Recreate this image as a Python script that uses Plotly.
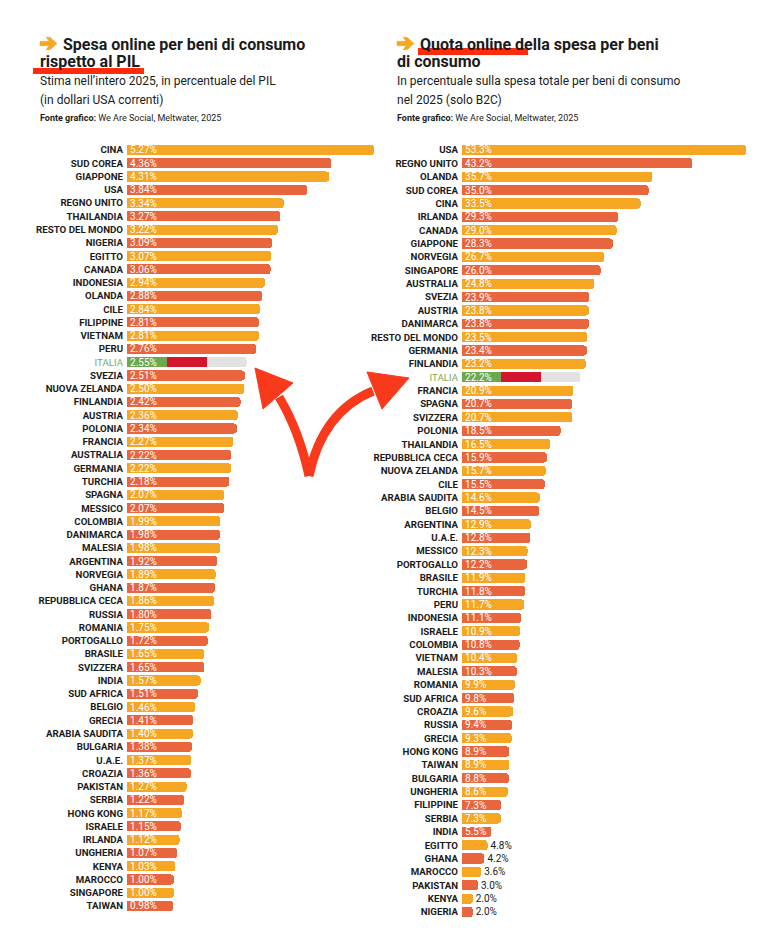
import plotly.graph_objects as go

W, H = 760, 937

# ---------------- data ----------------
countries_pil = ["CINA", "SUD COREA", "GIAPPONE", "USA", "REGNO UNITO", "THAILANDIA", "RESTO DEL MONDO",
                 "NIGERIA", "EGITTO", "CANADA", "INDONESIA", "OLANDA", "CILE", "FILIPPINE", "VIETNAM", "PERU",
                 "ITALIA", "SVEZIA", "NUOVA ZELANDA", "FINLANDIA", "AUSTRIA", "POLONIA", "FRANCIA", "AUSTRALIA",
                 "GERMANIA", "TURCHIA", "SPAGNA", "MESSICO", "COLOMBIA", "DANIMARCA", "MALESIA", "ARGENTINA",
                 "NORVEGIA", "GHANA", "REPUBBLICA CECA", "RUSSIA", "ROMANIA", "PORTOGALLO", "BRASILE",
                 "SVIZZERA", "INDIA", "SUD AFRICA", "BELGIO", "GRECIA", "ARABIA SAUDITA", "BULGARIA", "U.A.E.",
                 "CROAZIA", "PAKISTAN", "SERBIA", "HONG KONG", "ISRAELE", "IRLANDA", "UNGHERIA", "KENYA",
                 "MAROCCO", "SINGAPORE", "TAIWAN"]
values_pil = [5.27, 4.36, 4.31, 3.84, 3.34, 3.27, 3.22, 3.09, 3.07, 3.06, 2.94, 2.88, 2.84, 2.81, 2.81, 2.76,
              2.55, 2.51, 2.50, 2.42, 2.36, 2.34, 2.27, 2.22, 2.22, 2.18, 2.07, 2.07, 1.99, 1.98, 1.98, 1.92,
              1.89, 1.87, 1.86, 1.80, 1.75, 1.72, 1.65, 1.65, 1.57, 1.51, 1.46, 1.41, 1.40, 1.38, 1.37, 1.36,
              1.27, 1.22, 1.17, 1.15, 1.12, 1.07, 1.03, 1.00, 1.00, 0.98]

countries_quota = ["USA", "REGNO UNITO", "OLANDA", "SUD COREA", "CINA", "IRLANDA", "CANADA", "GIAPPONE",
                   "NORVEGIA", "SINGAPORE", "AUSTRALIA", "SVEZIA", "AUSTRIA", "DANIMARCA", "RESTO DEL MONDO",
                   "GERMANIA", "FINLANDIA", "ITALIA", "FRANCIA", "SPAGNA", "SVIZZERA", "POLONIA", "THAILANDIA",
                   "REPUBBLICA CECA", "NUOVA ZELANDA", "CILE", "ARABIA SAUDITA", "BELGIO", "ARGENTINA", "U.A.E.",
                   "MESSICO", "PORTOGALLO", "BRASILE", "TURCHIA", "PERU", "INDONESIA", "ISRAELE", "COLOMBIA",
                   "VIETNAM", "MALESIA", "ROMANIA", "SUD AFRICA", "CROAZIA", "RUSSIA", "GRECIA", "HONG KONG",
                   "TAIWAN", "BULGARIA", "UNGHERIA", "FILIPPINE", "SERBIA", "INDIA", "EGITTO", "GHANA",
                   "MAROCCO", "PAKISTAN", "KENYA", "NIGERIA"]
values_quota = [53.3, 43.2, 35.7, 35.0, 33.5, 29.3, 29.0, 28.3, 26.7, 26.0, 24.8, 23.9, 23.8, 23.8, 23.5,
                23.4, 23.2, 22.2, 20.9, 20.7, 20.7, 18.5, 16.5, 15.9, 15.7, 15.5, 14.6, 14.5, 12.9, 12.8,
                12.3, 12.2, 11.9, 11.8, 11.7, 11.1, 10.9, 10.8, 10.4, 10.3, 9.9, 9.8, 9.6, 9.4, 9.3, 8.9,
                8.9, 8.8, 8.6, 7.3, 7.3, 5.5, 4.8, 4.2, 3.6, 3.0, 2.0, 2.0]

highlight = "ITALIA"

# ---------------- styles ----------------
FONT = "Roboto"
ORANGE = "#F5A623"
REDOR = "#E8653D"
GREEN = "#6BA84F"
FLAGRED = "#D4152E"
GREY = "#E2E2E2"
ARROW = "#F9391B"
INK = "#1b1b1b"

fig = go.Figure()


def add_panel(countries, values, fmt, xa, ya, outside_below):
    base = [None if c == highlight else v for c, v in zip(countries, values)]
    colors = [ORANGE if i % 2 == 0 else REDOR for i in range(len(countries))]
    texts = ["" if c == highlight else fmt.format(v) for c, v in zip(countries, values)]
    pos = ["outside" if v < outside_below else "inside" for v in values]
    fig.add_trace(go.Bar(
        x=base, y=countries, orientation="h", marker=dict(color=colors, line=dict(width=0)),
        text=texts, textposition=pos, insidetextanchor="start", constraintext="none",
        insidetextfont=dict(color="white", size=10, family=FONT),
        outsidetextfont=dict(color=INK, size=10, family=FONT),
        cliponaxis=False, hoverinfo="skip", showlegend=False, xaxis=xa, yaxis=ya))
    iv = values[countries.index(highlight)]
    for k, col in enumerate([GREEN, FLAGRED, GREY]):
        fig.add_trace(go.Bar(
            x=[iv / 3], y=[highlight], orientation="h", marker=dict(color=col, line=dict(width=0)),
            text=[fmt.format(iv) if k == 0 else ""], textposition="inside", insidetextanchor="start",
            constraintext="none", insidetextfont=dict(color="white", size=10, family=FONT),
            hoverinfo="skip", showlegend=False, xaxis=xa, yaxis=ya))


add_panel(countries_pil, values_pil, "{:.2f}%", "x", "y", 0)
add_panel(countries_quota, values_quota, "{:.1f}%", "x2", "y2", 5)


def ticktext(countries):
    out = []
    for c in countries:
        if c == highlight:
            out.append("<span style='color:#78A95C'>" + c + "</span>")
        else:
            out.append("<b>" + c + "</b>")
    return out


def yaxis_cfg(countries, top_px, row_px):
    n = len(countries)
    bottom_px = top_px + n * row_px
    return dict(
        domain=[1 - bottom_px / H, 1 - top_px / H], type="category",
        categoryorder="array", categoryarray=countries,
        range=[n - 0.5, -0.5], tickmode="array", tickvals=countries, ticktext=ticktext(countries),
        tickfont=dict(family=FONT, size=9.7, color=INK), ticks="outside", ticklen=1,
        tickcolor="rgba(0,0,0,0)", showgrid=False, zeroline=False, showline=False, fixedrange=True)


row_l = (906 - 150) / 57
row_r = (912 - 150) / 57

fig.update_layout(
    width=W, height=H, margin=dict(l=0, r=0, t=0, b=0),
    paper_bgcolor="white", plot_bgcolor="white",
    barmode="stack", bargap=0.24, barcornerradius=3,
    font=dict(family=FONT, color=INK),
    xaxis=dict(domain=[127 / W, (127 + 5.5 * 46.9) / W], range=[0, 5.5], visible=False, fixedrange=True),
    yaxis=yaxis_cfg(countries_pil, 150 - row_l / 2, row_l),
    xaxis2=dict(domain=[462 / W, (462 + 55 * 5.33) / W], range=[0, 55], visible=False, fixedrange=True),
    yaxis2=yaxis_cfg(countries_quota, 150 - row_r / 2, row_r),
)
fig.layout.yaxis2.anchor = "x2"
fig.layout.xaxis2.anchor = "y2"


# ---------------- header texts ----------------
def P(x, y):
    return x / W, 1 - y / H


def pt(x, y):
    a, b = P(x, y)
    return f"{a:.5f},{b:.5f}"


def text(x, y, s, size, bold=False, color=INK):
    px, py = P(x, y)
    fig.add_annotation(x=px, y=py, xref="paper", yref="paper", xanchor="left", yanchor="middle",
                       text=("<b>" + s + "</b>") if bold else s, showarrow=False,
                       font=dict(family=FONT, size=size, color=color))


def orange_arrow(x, y):
    # chevron-style heavy arrow glyph, (x, y) = left end of the shaft, vertical centre
    p = [(0, -2.2), (9, -2.2), (6, -6.3), (10, -6.3), (17, 0), (10, 6.3), (6, 6.3), (9, 2.2), (0, 2.2)]
    d = "M " + " L ".join(pt(x + dx, y + dy) for dx, dy in p) + " Z"
    fig.add_shape(type="path", path=d, xref="paper", yref="paper",
                  line=dict(color=ORANGE, width=0.5), fillcolor=ORANGE)


# red underlines (behind text)
for (x0, y0, x1, y1) in [(33, 68, 144, 74), (418, 48, 528, 55)]:
    a0, b0 = P(x0, y0)
    a1, b1 = P(x1, y1)
    fig.add_shape(type="rect", xref="paper", yref="paper", x0=a0, x1=a1, y0=b1, y1=b0,
                  fillcolor="#FF2B0A", line=dict(width=0), layer="below")

orange_arrow(40, 43.5)
text(61, 44, "Spesa online per beni di consumo", 16, True)
text(38, 62, "rispetto al PIL", 16, True)
text(38, 81, "Stima nell’intero 2025, in percentuale del PIL", 12)
text(38, 100, "(in dollari USA correnti)", 12)
text(38, 118, "<b>Fonte grafico:</b> We Are Social, Meltwater, 2025", 9)

orange_arrow(397, 43.5)
text(418, 44, "Quota online della spesa per beni", 16, True)
text(395, 62, "di consumo", 16, True)
text(395, 81, "In percentuale sulla spesa totale per beni di consumo", 12)
text(395, 100, "nel 2025 (solo B2C)", 12)
text(395, 118, "<b>Fonte grafico:</b> We Are Social, Meltwater, 2025", 9)

# ---------------- red curved double arrow ----------------
stem_l = f"M {pt(309, 476)} Q {pt(299, 430)} {pt(279, 397)}"
stem_r = f"M {pt(309, 476)} Q {pt(322, 412)} {pt(373, 391)}"
for d in (stem_l, stem_r):
    fig.add_shape(type="path", path=d, xref="paper", yref="paper",
                  line=dict(color=ARROW, width=9), fillcolor="rgba(0,0,0,0)")
head_l = f"M {pt(255, 368)} L {pt(293, 383)} L {pt(263, 409)} Z"
head_r = f"M {pt(409, 378)} L {pt(367, 372)} L {pt(382, 409)} Z"
for d in (head_l, head_r):
    fig.add_shape(type="path", path=d, xref="paper", yref="paper",
                  line=dict(color=ARROW, width=1), fillcolor=ARROW)

fig.write_html("out.html", config={"displayModeBar": False},
               post_script="document.body.style.margin='0px';document.body.style.overflow='hidden';")
